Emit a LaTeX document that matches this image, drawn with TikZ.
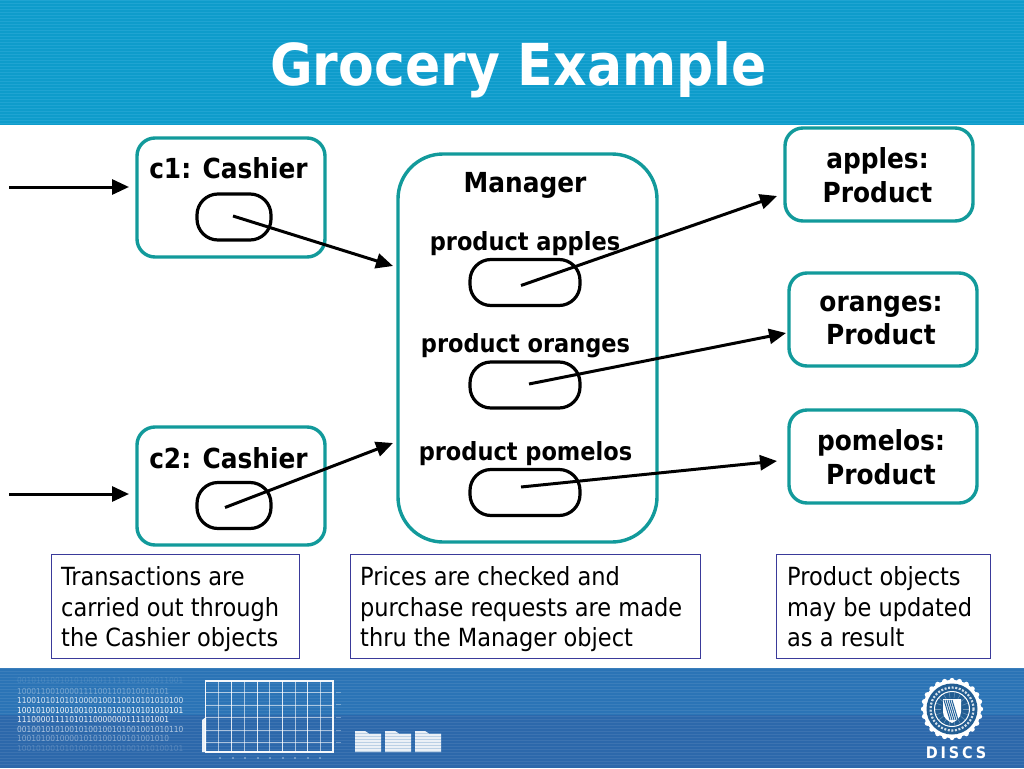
\documentclass[tikz,border=0pt]{standalone}
\usepackage{fontspec}
\setmainfont{DejaVu Sans Condensed}
\usetikzlibrary{arrows.meta,calc}
\definecolor{teal1}{HTML}{129A9B}
\definecolor{navy1}{HTML}{3A3A9A}
\definecolor{headA}{HTML}{0E9CCB}
\definecolor{headB}{HTML}{1FA4D2}
\definecolor{footA}{HTML}{2B74B6}
\definecolor{footB}{HTML}{2C5EA2}
\newcommand{\fsz}[1]{\fontsize{#1}{#1}\selectfont}
\tikzset{
  x=1pt,y=-1pt,
  objbox/.style={draw=teal1,line width=3.4pt,fill=white,rounded corners=18pt,minimum width=188pt,inner sep=0pt},
  prodbox/.style={objbox,minimum height=93pt,align=center,font=\fsz{27.6}\bfseries},
  slot/.style={draw=black,line width=3.2pt,fill=white,rounded corners=21pt,inner sep=0pt},
  slotS/.style={slot,minimum width=74pt,minimum height=46pt},
  slotL/.style={slot,minimum width=110pt,minimum height=46pt},
  lbl/.style={inner sep=0pt,font=\fsz{27.6}\bfseries,text=black},
  flow/.style={draw=black,line width=3pt,-{Triangle[length=17pt,width=15pt]}},
  note/.style={draw=navy1,line width=0.9pt,fill=white,anchor=north west,inner sep=0pt},
  notetxt/.style={anchor=base west,inner sep=0pt,font=\fsz{25},text=black},
  bin/.style={anchor=west,inner sep=0pt,font=\fsz{8.3},text=white},
  grid1/.style={draw=white,line width=1pt,opacity=.85},
  folder/.style={fill=white,opacity=.9},
}
\begin{document}
\begin{tikzpicture}
\useasboundingbox (0,768) rectangle (1024,0);
\fill[white] (0,768) rectangle (1024,0);
% header band
\fill[headA] (0,0) rectangle (1024,125);
\foreach \yy in {0,3,...,123}{\fill[headB] (0,\yy) rectangle (1024,\yy+1.4);}
% footer band
\fill[footA] (0,668) rectangle (1024,715);
\fill[footB!55!footA] (0,715) rectangle (1024,768);
\foreach \yy in {668,671,...,766}{\fill[white,opacity=.08] (0,\yy) rectangle (1024,\yy+1.3);}
\node[inner sep=0pt,text=white,font=\fsz{57.8}\bfseries] (title) at (518.5,70) {Grocery Example};

% objects
\node[objbox,minimum height=119pt] (c1) at (231,197.5) {};
\node[objbox,minimum height=118pt] (c2) at (231,486) {};
\node[objbox,minimum width=259pt,minimum height=388pt,rounded corners=45pt] (mgr) at (527.5,348) {};
\node[prodbox] (apples) at (879,174.5) {};
\node[prodbox] (oranges) at (883,319.5) {};
\node[prodbox] (pomelos) at (883,456.5) {};
\node[lbl,align=center] (al) at (877.5,175.5) {apples:\\[6pt]Product};
\node[lbl,align=center] (ol) at (881,320.5) {oranges:\\[6pt]Product};
\node[lbl,align=center] (pol) at (881,457.5) {pomelos:\\[6pt]Product};
\node[lbl] (c1l) at (228.5,168.5) {c1: Cashier};
\node[lbl] (c2l) at (228.5,458.5) {c2: Cashier};
\node[lbl] (mgrl) at (525,185) {Manager};
\node[lbl,font=\fsz{25}\bfseries] (pa) at (525,243.5) {product apples};
\node[lbl,font=\fsz{25}\bfseries] (po) at (525.5,346) {product oranges};
\node[lbl,font=\fsz{25}\bfseries] (pp) at (525.5,454) {product pomelos};
\node[slotS] (s1) at (234,217) {};
\node[slotS] (s2) at (234,505.5) {};
\node[slotL] (sa) at (525,282.5) {};
\node[slotL] (so) at (525,385) {};
\node[slotL] (sp) at (525,492.5) {};

% connector ends
\coordinate (in1) at (9,187);
\coordinate (in2) at (9,494);
\coordinate (t1) at (129,187);
\coordinate (t2) at (129,494);
\coordinate (m1) at (393,266);
\coordinate (m2) at (393,443);
\coordinate (fa) at (777,196);
\coordinate (fo) at (786,333);
\coordinate (fp) at (777,461);
\draw[flow] (in1) -- (t1);
\draw[flow] (in2) -- (t2);
\draw[flow] ($(s1.center)+(-1,-1)$) -- (m1);
\draw[flow] ($(s2.center)+(-9,2)$) -- (m2);
\draw[flow] ($(sa.center)+(-4,3)$) -- (fa);
\draw[flow] ($(so.center)+(4,-1)$) -- (fo);
\draw[flow] ($(sp.center)+(-4,-5.5)$) -- (fp);

% notes
\node[note,minimum width=248pt,minimum height=104pt] (n1) at (51,554) {};
\node[note,minimum width=350pt,minimum height=104pt] (n2) at (350,554) {};
\node[note,minimum width=214pt,minimum height=104pt] (n3) at (776,554) {};
\node[notetxt] (n1a) at (61,585) {Transactions are};
\node[notetxt] (n1b) at (61,616) {carried out through};
\node[notetxt] (n1c) at (61,646) {the Cashier objects};
\node[notetxt] (n2a) at (360,585) {Prices are checked and};
\node[notetxt] (n2b) at (360,616) {purchase requests are made};
\node[notetxt] (n2c) at (360,646) {thru the Manager object};
\node[notetxt] (n3a) at (787,585) {Product objects};
\node[notetxt] (n3b) at (787,616) {may be updated};
\node[notetxt] (n3c) at (787,646) {as a result};

% footer art: binary digits
\node[bin,opacity=.12] (b1) at (17,680) {00101010010101000011111101000011001};
\node[bin,opacity=.35] (b2) at (17,691) {10001100100001111001101010010101};
\node[bin,opacity=.8] (b3) at (17,700.5) {11001010101010000100110010101010100};
\node[bin,opacity=.95] (b4) at (17,710) {10010100100100101010101010101010101};
\node[bin,opacity=.9] (b5) at (17,719.5) {11100001111010110000000111101001};
\node[bin,opacity=.6] (b6) at (17,729) {00100101010010100100101001001010110};
\node[bin,opacity=.4] (b7) at (17,738.5) {10010100100001010100100101001010};
\node[bin,opacity=.18] (b8) at (17,748) {10010100101010010100101001010100101};

% footer art: chart
\fill[white,opacity=.9] (202,752) -- (202,720) -- (206,717) -- (206,752) -- cycle;
\draw[white,line width=1.6pt,opacity=.95] (205.5,681) rectangle (333,752);
\foreach \xx in {218.5,244,269.5,295,320}{\draw[grid1,line width=.7pt,opacity=.6] (\xx,681) -- (\xx,752);}
\foreach \xx in {231.5,257,282,307.5}{\draw[grid1] (\xx,681) -- (\xx,752);}
\foreach \yy in {692,705,717,730,742}{\draw[grid1,line width=.7pt,opacity=.6] (205.5,\yy) -- (333,\yy);}
\foreach \yy in {692,704,717,730,742}{\fill[white,opacity=.35] (336,\yy) rectangle (341,\yy+1);}
\foreach \xx in {219,232,244,257,269,282,294,307,319}{\fill[white,opacity=.3] (\xx,757) rectangle (\xx+2,759);}
% footer art: folders
\foreach \xx in {355,385,415}{
  \fill[folder] (\xx,752) -- (\xx,731) -- (\xx+10,731) -- (\xx+14,733.5) -- (\xx+26,733.5) -- (\xx+26,752) -- cycle;
}
\foreach \yy in {733,736,...,751}{\fill[footA,opacity=.25] (355,\yy) rectangle (441,\yy+.8);}

% seal
\fill[white] (952,709) circle (29);
\foreach \a in {0,15,...,345}{\fill[white] ($(952,709)+(\a:28.5)$) circle (2.6);}
\fill[footA!80!black] (952,709) circle (25.5);
\draw[white,line width=1pt] (952,709) circle (17.5);
\draw[white,line width=2.2pt,dash pattern=on 2pt off 1.6pt,opacity=.8] (952,709) circle (21.5);
\foreach \a in {0,20,...,340}{\draw[white,opacity=.35,line width=.5pt] ($(952,709)+(\a:11)$) -- ($(952,709)+(\a:17)$);}
\fill[white] (943,699) -- (961,699) -- (961,712) .. controls (961,718) and (956,721) .. (952,723) .. controls (948,721) and (943,718) .. (943,712) -- cycle;
\foreach \k in {0,1,2,3,4}{\draw[footA!85!black,line width=1pt] (944+\k*2,700) -- (950+\k*2,720);}
\node[inner sep=0pt,text=white,font=\fsz{16}\bfseries] (discs) at (956,753) {\addfontfeatures{LetterSpace=18}DISCS};
\end{tikzpicture}
\end{document}
